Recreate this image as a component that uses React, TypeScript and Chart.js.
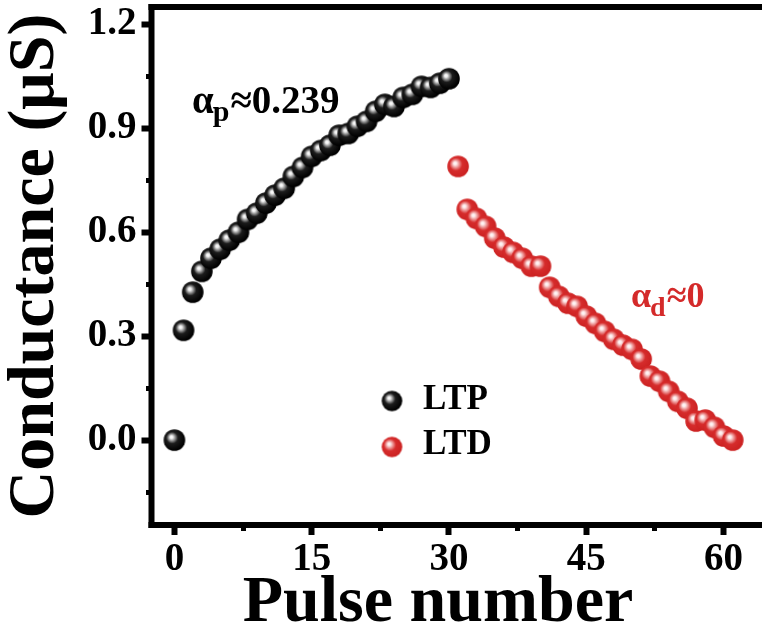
import React, { useEffect, useRef } from "react";
import { Chart, registerables } from "chart.js";

Chart.register(...registerables);

// ---------------- data ----------------
const ltpPulses = [0, 1, 2, 3, 4, 5, 6, 7, 8, 9, 10, 11, 12, 13, 14, 15, 16, 17, 18, 19, 20, 21, 22, 23, 24, 25, 26, 27, 28, 29, 30];
const ltpConductance = [0.0, 0.317, 0.427, 0.487, 0.525, 0.551, 0.577, 0.6, 0.637, 0.655, 0.684, 0.707, 0.727, 0.761, 0.787, 0.819, 0.836, 0.851, 0.88, 0.885, 0.906, 0.92, 0.949, 0.969, 0.963, 0.989, 0.998, 1.021, 1.018, 1.03, 1.043];
const ltdPulses = [31, 32, 33, 34, 35, 36, 37, 38, 39, 40, 41, 42, 43, 44, 45, 46, 47, 48, 49, 50, 51, 52, 53, 54, 55, 56, 57, 58, 59, 60, 61];
const ltdConductance = [0.79, 0.666, 0.64, 0.617, 0.583, 0.557, 0.542, 0.525, 0.502, 0.502, 0.441, 0.415, 0.395, 0.386, 0.358, 0.337, 0.314, 0.291, 0.274, 0.262, 0.234, 0.185, 0.17, 0.141, 0.112, 0.092, 0.055, 0.058, 0.037, 0.012, 0.0];

const xMajorTicks = [0, 15, 30, 45, 60];
const xMinorTicks = [7.5, 22.5, 37.5, 52.5];
const yMajorTicks = [0.0, 0.3, 0.6, 0.9, 1.2];
const yMinorTicks = [-0.15, 0.15, 0.45, 0.75, 1.05];

const seriesLabels = ["LTP", "LTD"];
const annotationLTP = ["α", "p", "≈0.239"];
const annotationLTD = ["α", "d", "≈0"];
const xTitle = "Pulse number";
const yTitle = "Conductance (μS)";

// ---------------- styles ----------------
const FONT = '"Liberation Serif", "Times New Roman", serif';
const BLACK = "#000000";
const RED = "#d42a2a";
const W = 762;
const H = 641;
const X_MIN = -2.5;
const X_MAX = 64.2;
const Y_MIN = -0.245;
const Y_MAX = 1.25;

type Stop = [number, string];
const blackStops: Stop[] = [
  [0, "#ffffff"],
  [0.12, "#f2f2f2"],
  [0.3, "#8c8c8c"],
  [0.5, "#1c1c1c"],
  [1, "#000000"],
];
const redStops: Stop[] = [
  [0, "#ffffff"],
  [0.14, "#fde6e6"],
  [0.34, "#ea8a8a"],
  [0.55, "#d62c2c"],
  [1, "#cc2222"],
];

function makeSphere(r: number, stops: Stop[]): HTMLCanvasElement {
  const c = document.createElement("canvas");
  const size = Math.ceil(r * 2) + 2;
  c.width = size;
  c.height = size;
  const ctx = c.getContext("2d")!;
  const cx = size / 2;
  const cy = size / 2;
  const g = ctx.createRadialGradient(cx - r * 0.3, cy - r * 0.3, 0, cx - r * 0.12, cy - r * 0.12, r * 1.08);
  stops.forEach(([o, col]) => g.addColorStop(o, col));
  ctx.fillStyle = g;
  ctx.beginPath();
  ctx.arc(cx, cy, r, 0, Math.PI * 2);
  ctx.fill();
  return c;
}

function tickAxisCommon(len: number, width: number) {
  return {
    display: true,
    drawOnChartArea: false,
    drawTicks: true,
    tickLength: len,
    tickWidth: width,
    tickColor: BLACK,
  };
}

function zeroPad(s: any) {
  s.paddingTop = 0;
  s.paddingBottom = 0;
  s.paddingLeft = 0;
  s.paddingRight = 0;
}

export default function App() {
  const ref = useRef<HTMLCanvasElement | null>(null);

  useEffect(() => {
    const canvas = ref.current;
    if (!canvas) return;

    const blackBall = makeSphere(10.8, blackStops);
    const redBall = makeSphere(10.8, redStops);
    const blackLegend = makeSphere(10.3, blackStops);
    const redLegend = makeSphere(10.3, redStops);

    const overlay = {
      id: "overlay",
      afterDraw(chart: any) {
        const { ctx, chartArea: a } = chart;
        ctx.save();
        // frame (top, left, bottom)
        const lw = 6;
        ctx.fillStyle = BLACK;
        ctx.fillRect(a.left - lw / 2, a.top - lw / 2, chart.width - (a.left - lw / 2), lw);
        ctx.fillRect(a.left - lw / 2, a.top - lw / 2, lw, a.bottom - a.top + lw);
        ctx.fillRect(a.left - lw / 2, a.bottom - lw / 2, chart.width - (a.left - lw / 2), lw);

        // legend
        const balls = [blackLegend, redLegend];
        const ly = [401, 447];
        const lb = [409, 454];
        ctx.textBaseline = "alphabetic";
        ctx.textAlign = "left";
        ctx.font = `bold 35px ${FONT}`;
        ctx.fillStyle = BLACK;
        seriesLabels.forEach((lab, i) => {
          const b = balls[i];
          ctx.drawImage(b, 392 - b.width / 2, ly[i] - b.height / 2);
          ctx.fillText(lab, 423, lb[i]);
        });

        // annotations
        const drawAnn = (parts: string[], x: number, base: number, big: number, small: number, subDrop: number, color: string) => {
          ctx.fillStyle = color;
          ctx.font = `bold ${big}px ${FONT}`;
          ctx.fillText(parts[0], x, base);
          let cx = x + ctx.measureText(parts[0]).width - 1;
          ctx.font = `bold ${small}px ${FONT}`;
          ctx.fillText(parts[1], cx, base + subDrop);
          cx += ctx.measureText(parts[1]).width + 1;
          ctx.font = `bold ${big}px ${FONT}`;
          ctx.fillText(parts[2], cx, base);
        };
        drawAnn(annotationLTP, 192, 113, 39, 30, 8, BLACK);
        drawAnn(annotationLTD, 631, 307, 36, 28, 9, RED);

        // x title
        ctx.fillStyle = BLACK;
        ctx.font = `bold 66px ${FONT}`;
        ctx.textAlign = "center";
        ctx.fillText(xTitle, 438, 621);
        ctx.restore();
      },
    };

    const tickFont = { family: FONT, size: 39, weight: "bold" as const, lineHeight: 1.2 };

    const chart = new Chart(canvas, {
      type: "scatter",
      data: {
        datasets: [
          {
            label: seriesLabels[0],
            data: ltpPulses.map((x, i) => ({ x, y: ltpConductance[i] })),
            pointStyle: blackBall as any,
            pointRadius: 11,
          },
          {
            label: seriesLabels[1],
            data: ltdPulses.map((x, i) => ({ x, y: ltdConductance[i] })),
            pointStyle: redBall as any,
            pointRadius: 11,
          },
        ],
      },
      options: {
        responsive: false,
        animation: false,
        events: [],
        layout: { autoPadding: false, padding: { top: 7, right: 0, left: 0, bottom: 0 } },
        plugins: {
          legend: { display: false },
          tooltip: { enabled: false },
        },
        scales: {
          x: {
            type: "linear",
            position: "bottom",
            min: X_MIN,
            max: X_MAX,
            border: { display: false },
            grid: tickAxisCommon(10, 6),
            afterBuildTicks: (s: any) => {
              s.ticks = xMajorTicks.map((v) => ({ value: v }));
            },
            ticks: {
              autoSkip: false,
              maxRotation: 0,
              color: BLACK,
              font: tickFont,
              padding: 2,
              callback: (v: any) => String(v),
            },
            afterFit: (s: any) => {
              s.height = 116;
              zeroPad(s);
            },
          },
          xMinor: {
            type: "linear",
            axis: "x",
            position: { y: Y_MIN },
            min: X_MIN,
            max: X_MAX,
            border: { display: false },
            grid: tickAxisCommon(6, 5),
            afterBuildTicks: (s: any) => {
              s.ticks = xMinorTicks.map((v) => ({ value: v }));
            },
            ticks: { display: false },
            afterFit: (s: any) => zeroPad(s),
          },
          y: {
            type: "linear",
            position: "left",
            min: Y_MIN,
            max: Y_MAX,
            border: { display: false },
            grid: tickAxisCommon(10, 6),
            afterBuildTicks: (s: any) => {
              s.ticks = yMajorTicks.map((v) => ({ value: v }));
            },
            ticks: {
              autoSkip: false,
              color: BLACK,
              font: tickFont,
              padding: 5,
              callback: (v: any) => Number(v).toFixed(1),
            },
            title: {
              display: true,
              text: yTitle,
              color: BLACK,
              font: { family: FONT, size: 66, weight: "bold", lineHeight: 1 },
              padding: { top: 3, bottom: 0 },
            },
            afterFit: (s: any) => {
              s.width = 151.5;
              zeroPad(s);
            },
          },
          yMinor: {
            type: "linear",
            axis: "y",
            position: { x: X_MIN },
            min: Y_MIN,
            max: Y_MAX,
            border: { display: false },
            grid: tickAxisCommon(6, 5),
            afterBuildTicks: (s: any) => {
              s.ticks = yMinorTicks.map((v) => ({ value: v }));
            },
            ticks: { display: false },
            afterFit: (s: any) => zeroPad(s),
          },
        } as any,
      },
      plugins: [overlay],
    });

    return () => {
      chart.destroy();
    };
  }, []);

  return (
    <div style={{ position: "absolute", left: 0, top: 0, width: W, height: H, overflow: "hidden", background: "#ffffff" }}>
      <canvas ref={ref} width={W} height={H} style={{ width: W, height: H, display: "block" }} />
    </div>
  );
}
